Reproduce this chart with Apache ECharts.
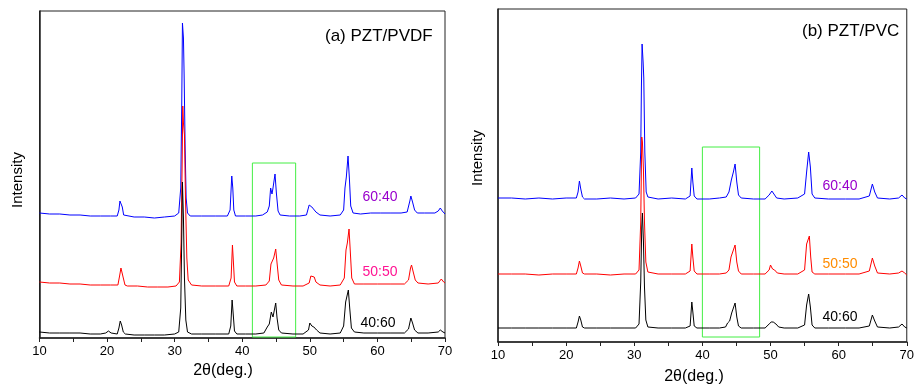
<!DOCTYPE html>
<html>
<head>
<meta charset="utf-8">
<script src="https://cdn.jsdelivr.net/npm/echarts@6/dist/echarts.min.js"></script>
<style>
  html, body { margin: 0; padding: 0; background: #fff; }
  #main { width: 917px; height: 385px; }
</style>
</head>
<body>
<div id="main"></div>
<script>
// x ticks (2theta, deg.)
var xTicks = [10, 20, 30, 40, 50, 60, 70];

// (a) PZT/PVDF - stacked patterns, [2theta, intensity (a.u.)]
var pvdf6040 = [[10,125],[11.5,124],[13,124],[14.5,123],[16,123],[17.5,122],[19,122],[20.5,122],[21.5,122],[21.75,128],[21.9,137],[22.05,139],[22.25,131],[22.45,123],[22.7,121],[24,121],[25.5,121],[27,120],[28.5,121],[30,122],[30.6,125],[30.9,150],[31.05,235],[31.15,315],[31.3,300],[31.4,263],[31.55,190],[31.7,140],[31.9,125],[32.3,122],[34,122],[36,122],[37.8,122],[38.2,128],[38.45,162],[38.6,150],[38.75,128],[39,122],[40.5,122],[42,122],[43,123],[43.7,126],[44.0,132],[44.2,150],[44.4,144],[44.55,150],[44.85,164],[45.05,145],[45.3,127],[45.6,123],[47,122],[48.5,122],[49.5,123],[49.9,133],[50.05,135],[50.3,131],[50.55,132],[50.9,126],[51.5,123],[53,122],[54.5,123],[55.0,128],[55.2,150],[55.4,161],[55.65,182],[55.85,160],[56.05,132],[56.4,125],[57.5,124],[59,125],[60.5,125],[62,125],[63.5,125],[64.4,126],[64.8,137],[64.95,142],[65.2,136],[65.5,128],[65.9,125],[67,125],[68.5,125],[69.0,127],[69.3,130],[69.6,127],[70,124]];
var pvdf5050 = [[10,56],[11.5,55],[13,55],[14.5,54],[16,54],[17.5,53],[19,53],[20.5,53],[21.6,53],[21.85,62],[22.05,70],[22.2,68],[22.4,60],[22.65,53],[23,52],[24.5,52],[26,51],[27.5,51],[29,51],[30.2,52],[30.7,56],[30.95,95],[31.1,170],[31.2,232],[31.3,215],[31.45,203],[31.6,140],[31.8,80],[32.0,58],[32.5,53],[34,52],[36,52],[38,52],[38.35,60],[38.55,93],[38.7,75],[38.85,56],[39.2,52],[40.5,52],[42,52],[43.5,53],[44.0,57],[44.25,74],[44.45,76],[44.65,80],[44.95,89],[45.15,75],[45.4,58],[45.8,53],[47.5,52],[49,52],[49.9,55],[50.15,62],[50.4,63],[50.65,61],[50.9,56],[51.5,53],[53,52],[54.5,53],[55.1,60],[55.35,88],[55.55,95],[55.8,109],[56.0,85],[56.2,60],[56.6,54],[58,54],[60,54],[62,54],[64,54],[64.6,58],[64.9,70],[65.05,73],[65.3,66],[65.6,58],[66,55],[67.5,54],[69,55],[69.45,59],[69.8,56],[70,55]];
var pvdf4060 = [[10,6],[11.5,5],[13,5],[14.5,5],[16,5],[17.5,4],[19,4],[19.8,5],[20.2,7],[20.6,5],[21.5,4],[21.75,10],[21.95,17],[22.15,13],[22.4,6],[22.7,4],[24,3],[25.5,3],[27,3],[28.5,3],[30,4],[30.6,6],[30.9,30],[31.05,100],[31.15,156],[31.3,120],[31.45,60],[31.65,18],[31.9,6],[32.5,4],[34,4],[36,4],[38,4],[38.3,12],[38.5,38],[38.65,25],[38.85,7],[39.2,4],[40.5,4],[42,4],[43.2,5],[43.7,11],[44.0,14],[44.3,26],[44.55,21],[44.95,35],[45.15,20],[45.4,8],[45.8,5],[47.5,4],[49,4],[49.8,8],[50.0,15],[50.3,12],[50.6,11],[51,8],[51.5,5],[53,4],[54.5,5],[55.0,12],[55.3,36],[55.45,38],[55.7,48],[55.9,30],[56.15,10],[56.6,6],[58,5],[60,5],[62,5],[64,5],[64.6,9],[64.95,20],[65.2,15],[65.5,8],[66,5],[67.5,5],[69,6],[69.3,8],[69.7,6],[70,5]];

// (b) PZT/PVC
var pvc6040 = [[10,144],[12,144],[14,143],[16,144],[18,143],[20,144],[21.5,144],[21.75,150],[21.95,161],[22.15,153],[22.4,145],[22.7,143],[24.5,143],[26.5,144],[28.5,143],[30.2,144],[30.7,148],[30.95,190],[31.05,255],[31.15,298],[31.3,280],[31.4,264],[31.55,190],[31.75,150],[32.0,145],[33.5,143],[35.5,144],[37.5,143],[38.2,146],[38.45,174],[38.6,160],[38.8,146],[39.2,143],[41,143],[42.5,144],[43.5,145],[43.9,150],[44.25,162],[44.55,170],[44.8,178],[45.05,160],[45.3,147],[45.7,144],[47.5,143],[49.2,143],[49.8,147],[50.2,151],[50.5,148],[50.9,144],[52,143],[54,144],[55.0,148],[55.3,170],[55.6,190],[55.85,175],[56.1,148],[56.5,144],[58.5,143],[61,143],[63,143],[64.5,146],[64.95,158],[65.3,150],[65.7,144],[67.5,143],[68.8,144],[69.3,147],[69.7,144],[70,143]];
var pvc5050 = [[10,68],[12,68],[14,68],[16,67],[18,68],[20,68],[21.5,68],[21.75,74],[21.95,81],[22.15,76],[22.4,69],[22.7,68],[24.5,68],[26.5,67],[28.5,68],[30.2,68],[30.7,72],[30.95,120],[31.1,205],[31.2,200],[31.35,172],[31.5,120],[31.7,80],[32.0,70],[33.5,68],[35.5,68],[37.5,68],[38.2,71],[38.45,98],[38.6,85],[38.8,71],[39.2,68],[41,68],[42.5,68],[43.5,69],[43.9,72],[44.2,85],[44.35,88],[44.5,86],[44.8,97],[45.05,80],[45.3,71],[45.7,68],[47.5,68],[49.2,68],[49.8,72],[50.0,77],[50.3,73],[50.6,72],[51,69],[52,68],[54,68],[55.0,72],[55.3,98],[55.45,100],[55.7,106],[55.9,85],[56.1,70],[56.5,68],[58.5,68],[61,68],[63,68],[64.5,71],[64.95,84],[65.3,76],[65.7,69],[67.5,68],[68.8,69],[69.3,71],[69.7,69],[70,67]];
var pvc4060 = [[10,14],[12,14],[14,14],[16,14],[18,14],[20,14],[21.5,14],[21.75,20],[21.95,26],[22.15,22],[22.4,15],[22.7,14],[24.5,14],[26.5,14],[28.5,14],[30.2,14],[30.7,18],[30.95,60],[31.1,115],[31.2,129],[31.35,100],[31.5,55],[31.7,22],[32.0,15],[33.5,14],[35.5,14],[37.5,14],[38.2,16],[38.45,40],[38.6,30],[38.8,16],[39.2,14],[41,14],[42.5,14],[43.4,15],[43.7,19],[44.0,21],[44.3,29],[44.5,27],[44.8,39],[45.05,25],[45.3,16],[45.7,14],[47.5,14],[49.2,14],[49.8,18],[50.1,20],[50.4,20],[50.8,18],[51.2,15],[52,14],[54,14],[55.0,17],[55.3,37],[55.6,48],[55.85,35],[56.1,17],[56.5,14],[58.5,14],[61,14],[63,14],[64.5,16],[64.95,27],[65.3,21],[65.7,15],[67.5,14],[68.8,15],[69.3,18],[69.7,15],[70,14]];

// highlighted (200) region boxes: [x0, x1, y0, y1]
var boxA = [41.5, 47.9, 1, 175];
var boxB = [40, 48.4, 5, 195];

var myChart = echarts.init(document.getElementById('main'));
var font = 'Liberation Sans, Arial, sans-serif';

function xAxisFor(idx) {
    return {
        gridIndex: idx, type: 'value', min: 10, max: 70, interval: 10,
        axisLine: { show: true, onZero: false, lineStyle: { color: '#222', width: 1.5 } },
        axisTick: { show: true, inside: false, length: 4, lineStyle: { color: '#222' } },
        minorTick: { show: true, splitNumber: 2, length: 4, lineStyle: { color: '#222' } },
        splitLine: { show: false },
        axisLabel: { color: '#000', fontSize: 13, fontFamily: font, margin: 7,
            formatter: function (v) { return xTicks.indexOf(v) >= 0 ? String(v) : ''; } }
    };
}
function yAxisFor(idx, max) {
    return {
        gridIndex: idx, type: 'value', min: 0, max: max,
        axisLine: { show: true, lineStyle: { color: '#222', width: 1.5 } },
        axisTick: { show: false }, axisLabel: { show: false }, splitLine: { show: false }
    };
}
function line(name, data, color, idx) {
    return {
        name: name, type: 'line', xAxisIndex: idx, yAxisIndex: idx,
        data: data, showSymbol: false, symbol: 'none', animation: false,
        lineStyle: { color: color, width: 1 }
    };
}
function box(b) {
    return {
        silent: true,
        itemStyle: { color: 'rgba(0,0,0,0)', borderColor: '#44ee44', borderWidth: 1 },
        data: [[{ xAxis: b[0], yAxis: b[2] }, { xAxis: b[1], yAxis: b[3] }]]
    };
}
function txt(x, y, s, color, size, align, rot) {
    return {
        type: 'text', x: x, y: y, rotation: rot || 0,
        style: { text: s, fill: color, fontSize: size, fontFamily: font,
                 align: align || 'center', verticalAlign: 'middle' }
    };
}

var sA = line('60:40', pvdf6040, '#0000ff', 0);
sA.markArea = box(boxA);
var sB = line('60:40', pvc6040, '#0000ff', 1);
sB.markArea = box(boxB);

var option = {
    backgroundColor: '#fff',
    grid: [
        { left: 39.5, top: 11, width: 405.5, height: 327, show: true, borderColor: '#222', borderWidth: 1 },
        { left: 498, top: 9, width: 411, height: 333, show: true, borderColor: '#222', borderWidth: 1 }
    ],
    xAxis: [xAxisFor(0), xAxisFor(1)],
    yAxis: [yAxisFor(0, 327), yAxisFor(1, 333)],
    series: [
        sA,
        line('50:50', pvdf5050, '#ff0000', 0),
        line('40:60', pvdf4060, '#000000', 0),
        sB,
        line('50:50', pvc5050, '#ff0000', 1),
        line('40:60', pvc4060, '#000000', 1)
    ],
    graphic: [
        txt(325, 36, '(a) PZT/PVDF', '#000', 17, 'left'),
        txt(802, 31, '(b) PZT/PVC', '#000', 17, 'left'),
        txt(18, 180, 'Intensity', '#000', 15, 'center', Math.PI / 2),
        txt(478, 158, 'Intensity', '#000', 15, 'center', Math.PI / 2),
        txt(223, 371, '2\u03b8(deg.)', '#000', 16),
        txt(694, 377, '2\u03b8(deg.)', '#000', 16),
        txt(380, 197, '60:40', '#9900cc', 14),
        txt(380, 272, '50:50', '#ff1493', 14),
        txt(378, 323, '40:60', '#000', 14),
        txt(840, 186, '60:40', '#9900cc', 14),
        txt(840, 264, '50:50', '#ff8c00', 14),
        txt(840, 317, '40:60', '#000', 14)
    ]
};
myChart.setOption(option);
</script>
</body>
</html>
